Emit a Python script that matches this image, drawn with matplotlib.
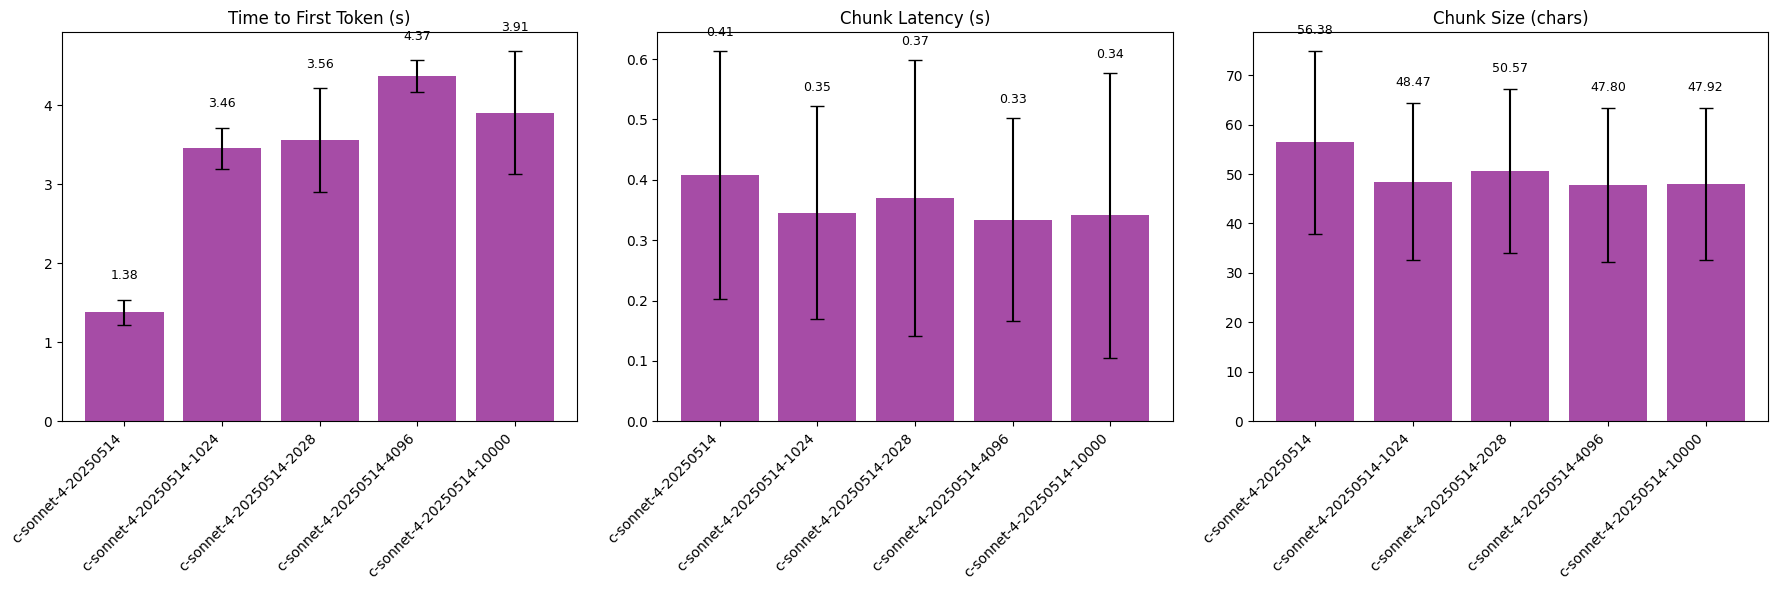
import matplotlib
matplotlib.use("Agg")
import matplotlib.pyplot as plt
import numpy as np

models = [
    "c-sonnet-4-20250514",
    "c-sonnet-4-20250514-1024",
    "c-sonnet-4-20250514-2028",
    "c-sonnet-4-20250514-4096",
    "c-sonnet-4-20250514-10000",
]

ttft_mean = [1.38, 3.46, 3.56, 4.37, 3.91]
ttft_std = [0.16, 0.26, 0.66, 0.20, 0.78]

latency_mean = [0.408, 0.3455, 0.370, 0.334, 0.341]
latency_std = [0.2055, 0.1765, 0.228, 0.168, 0.236]

size_mean = [56.38, 48.47, 50.57, 47.80, 47.92]
size_std = [18.5, 15.95, 16.6, 15.6, 15.4]

titles = ["Time to First Token (s)", "Chunk Latency (s)", "Chunk Size (chars)"]
means_list = [ttft_mean, latency_mean, size_mean]
stds_list = [ttft_std, latency_std, size_std]

fig, axes = plt.subplots(1, 3, figsize=(17.77, 5.9), dpi=100)
fig.subplots_adjust(left=0.0349, right=0.995, top=0.945, bottom=0.286, wspace=0.155)
x = np.arange(len(models))
for ax, title, means, stds in zip(axes, titles, means_list, stds_list):
    ax.bar(x, means, yerr=stds, capsize=5, color="purple", alpha=0.7)
    ax.set_title(title, fontsize=12)
    ax.set_xticks(x)
    ax.set_xticklabels(models, rotation=45, ha="right")
    off = 0.05 * max(means)
    for xi, m, s in zip(x, means, stds):
        ax.text(xi, m + s + off, f"{m:.2f}", ha="center", va="bottom", fontsize=9)

plt.savefig("out.png", dpi=100)
